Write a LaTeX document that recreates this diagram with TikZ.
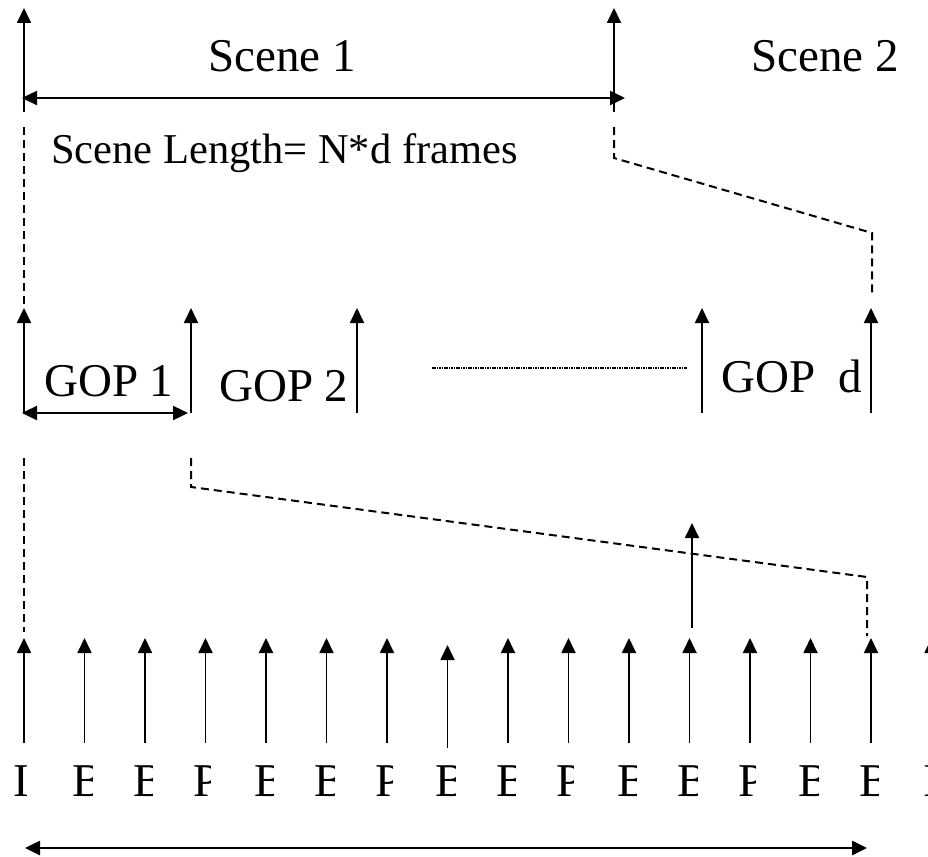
\documentclass[tikz,border=0pt]{standalone}
\usepackage{fontspec}
\setmainfont{Liberation Serif}
\usetikzlibrary{arrows.meta}
\begin{document}
\begin{tikzpicture}[x=1pt,y=-1pt,
  headtip/.style={-{Triangle[width=14pt,length=15pt]}},
  marker/.style={line width=1.8pt, headtip},
  span/.style={{Triangle[width=14pt,length=15pt]}-{Triangle[width=14pt,length=15pt]}, line width=2.4pt},
  guide/.style={dash pattern=on 8pt off 5pt, line width=2pt},
  fineline/.style={dash pattern=on 1.6pt off 0.8pt, line width=1.6pt},
  lbl/.style={inner sep=0pt, anchor=base west, font=\fontsize{47}{50}\selectfont},
  frm/.style={inner sep=0pt, font=\fontsize{47}{50}\selectfont},
]
\useasboundingbox (0,0) rectangle (928,856);

% ---- scene level ----
\coordinate (s1b) at (24,112);  \coordinate (s1t) at (24,8);
\coordinate (s2b) at (614,112); \coordinate (s2t) at (614,8);
\draw[marker] (s1b) -- (s1t);
\draw[marker] (s2b) -- (s2t);
\coordinate (sl) at (22,98); \coordinate (sr) at (625,98);
\draw[span] (sl) -- (sr);

\node[lbl] (scene1) at (208,72) {Scene 1};
\node[lbl] (scene2) at (751,72) {Scene 2};
\node[lbl, font=\fontsize{42.5}{46}\selectfont] (slen) at (51,163) {Scene Length= N*d frames};

% guides from the scene down to the GOPs
\coordinate (ga1) at (24,127); \coordinate (ga2) at (24,304);
\draw[guide] (ga1) -- (ga2);
\coordinate (gb1) at (614,127); \coordinate (gb2) at (614,158);
\coordinate (gb3) at (872,233); \coordinate (gb4) at (872,294);
\draw[guide] (gb1) -- (gb2) -- (gb3) -- (gb4);

% ---- GOP level ----
\foreach \n/\x in {g1/24, g2/191, g3/357, g4/702, g5/871}{
  \coordinate (\n b) at (\x,413);
  \coordinate (\n t) at (\x,308);
  \draw[marker] (\n b) -- (\n t);
}
\coordinate (gopl) at (22,413); \coordinate (gopr) at (188,413);
\draw[span] (gopl) -- (gopr);

\node[lbl] (gop1) at (44,396) {GOP 1};
\node[lbl] (gop2) at (219,401) {GOP 2};
\node[lbl] (gopd) at (721,392) {GOP\ \ d};

\coordinate (dl) at (432,368); \coordinate (dr) at (687,368);
\draw[fineline] (dl) -- (dr);

% guides from GOP 1 down to the frames
\coordinate (ha1) at (24,458); \coordinate (ha2) at (24,632);
\draw[guide] (ha1) -- (ha2);
\coordinate (hb1) at (191,458); \coordinate (hb2) at (191,487);
\coordinate (hb3) at (867,577); \coordinate (hb4) at (867,636);
\draw[guide] (hb1) -- (hb2) -- (hb3) -- (hb4);

\coordinate (xb) at (692,628); \coordinate (xt) at (692,523);
\draw[marker] (xb) -- (xt);

% ---- frame level ----
\foreach \i in {0,...,15}{
  \pgfmathsetmacro{\fx}{24+60.5*\i}
  \ifnum\i=7
    \coordinate (f\i b) at (\fx,748);
    \coordinate (f\i t) at (\fx,645);
  \else
    \coordinate (f\i b) at (\fx,743);
    \coordinate (f\i t) at (\fx,638);
  \fi
  \draw[marker] (f\i b) -- (f\i t);
}

% frame types, each shown in a narrow box
\node[frm, anchor=base] (t0) at (21.5,796) {I};
\node[frm, anchor=base] (t15) at (931.5,796) {I};
\foreach \i/\l/\w in {1/B/7.5,2/B/7.5,3/P/5,4/B/7.5,5/B/7.5,6/P/5,7/B/7.5,8/B/7.5,9/P/5,10/B/7.5,11/B/7.5,12/P/5,13/B/7.5,14/B/7.5}{
  \pgfmathsetmacro{\fx}{24+60.5*\i}
  \begin{scope}
    \clip (\fx-12,755) rectangle (\fx+\w,805);
    \node[frm, anchor=base west] (t\i) at (\fx-12,796) {\l};
  \end{scope}
}

\coordinate (bl) at (25,848); \coordinate (br) at (867,848);
\draw[span, line width=2.6pt] (bl) -- (br);
\end{tikzpicture}
\end{document}
